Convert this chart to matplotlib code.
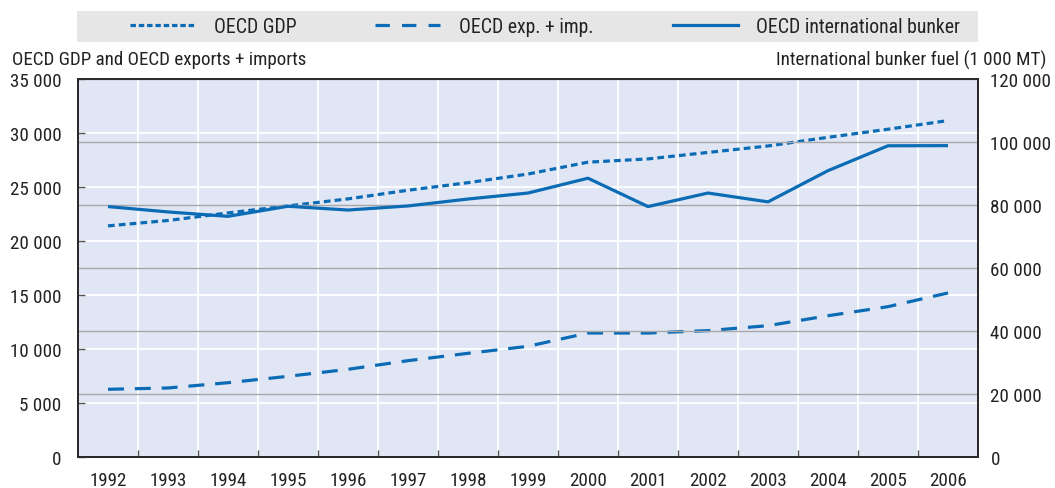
import matplotlib
matplotlib.use("Agg")
import matplotlib.pyplot as plt
from matplotlib.ticker import FuncFormatter, FixedLocator
from matplotlib.lines import Line2D

plt.rcParams['font.family'] = ['Roboto Condensed', 'DejaVu Sans']

# data
years = ['1992', '1993', '1994', '1995', '1996', '1997', '1998', '1999',
         '2000', '2001', '2002', '2003', '2004', '2005', '2006']
gdp = [21400, 21900, 22600, 23250, 23900, 24700, 25400, 26200,
       27300, 27600, 28200, 28800, 29600, 30350, 31150]
exp_imp = [6270, 6390, 6880, 7470, 8120, 8920, 9600, 10250,
           11480, 11480, 11700, 12160, 13080, 13920, 15190]
bunker = [79500, 77800, 76400, 79600, 78400, 79700, 81900, 83800,
          88500, 79500, 83800, 81000, 90900, 98800, 98850]

BLUE = '#0b6cb5'
BG = '#e0e6f4'
GREY_GRID = '#a8a8a8'
TXT = '#222222'
FS = 13.7
LW = 2.3
DOT = (0, (2.1, 1.3))
DASH = (0, (5.0, 3.4))


def space_thousands(v, pos):
    return f"{int(round(v)):,}".replace(',', ' ')


fig = plt.figure(figsize=(10.55, 4.89), dpi=100)
ax = fig.add_axes([78 / 1055, 1 - 458 / 489, 900 / 1055, 378 / 489])
ax2 = ax.twinx()

x = list(range(len(years)))

ax.set_facecolor(BG)
ax.plot(x, gdp, color=BLUE, lw=LW, linestyle=DOT, zorder=3)
ax.plot(x, exp_imp, color=BLUE, lw=LW, linestyle=DASH, zorder=3)
ax2.plot(x, bunker, color=BLUE, lw=LW, solid_capstyle='butt', zorder=3)

ax.set_xlim(-0.5, len(years) - 0.5)
ax.set_ylim(0, 35000)
ax2.set_ylim(0, 120000)

ax.set_yticks(range(0, 35001, 5000))
ax2.set_yticks(range(0, 120001, 20000))
ax.yaxis.set_major_formatter(FuncFormatter(space_thousands))
ax2.yaxis.set_major_formatter(FuncFormatter(space_thousands))

# year labels at bin centres, tick marks at bin boundaries
ax.xaxis.set_major_locator(FixedLocator([i + 0.5 for i in x[:-1]]))
ax.xaxis.set_minor_locator(FixedLocator(x))
ax.set_xticklabels([], minor=False)
ax.set_xticklabels(years, minor=True)

ax.tick_params(axis='x', which='major', direction='in', length=5,
               width=1, color='#555555')
ax.tick_params(axis='x', which='minor', length=0, pad=10,
               labelsize=FS, labelcolor=TXT)
ax.tick_params(axis='y', direction='in', length=5, width=1, color='#555555',
               pad=12, labelsize=FS, labelcolor=TXT)
ax2.tick_params(axis='y', length=0, pad=9, labelsize=FS, labelcolor=TXT)

ax.grid(True, which='major', axis='both', color='white', lw=1.3, zorder=0)
ax.set_axisbelow(True)
ax2.grid(True, axis='y', color=GREY_GRID, lw=1.0, zorder=0)
ax2.set_axisbelow(True)

for a in (ax, ax2):
    for s in a.spines.values():
        s.set_color('#2a2a2a')
        s.set_linewidth(1.4)

fig.text(12 / 1055, 1 - 60 / 489, 'OECD GDP and OECD exports + imports',
         ha='left', va='center', fontsize=FS, color=TXT)
fig.text(1046 / 1055, 1 - 60 / 489, 'International bunker fuel (1 000 MT)',
         ha='right', va='center', fontsize=FS, color=TXT)

handles = [
    Line2D([], [], color=BLUE, lw=LW, linestyle=(0, (1.7, 0.9))),
    Line2D([], [], color=BLUE, lw=LW, linestyle=(0, (4.5, 3.8))),
    Line2D([], [], color=BLUE, lw=LW),
]
labels = ['OECD GDP', 'OECD exp. + imp.', 'OECD international bunker']
leg = fig.legend(handles, labels, loc='center left', ncol=3,
                 bbox_to_anchor=(130 / 1055, 1 - 27.5 / 489),
                 frameon=False, fontsize=14.2, handlelength=3.3,
                 handletextpad=0.95, columnspacing=4.0,
                 borderaxespad=0, borderpad=0)
for t in leg.get_texts():
    t.set_color(TXT)
fig.patches.append(plt.Rectangle((77 / 1055, 1 - 43 / 489), 901 / 1055, 31 / 489,
                                 transform=fig.transFigure, facecolor='#e6e6e6',
                                 edgecolor='none', zorder=-1))

fig.savefig('out.png', dpi=100)
